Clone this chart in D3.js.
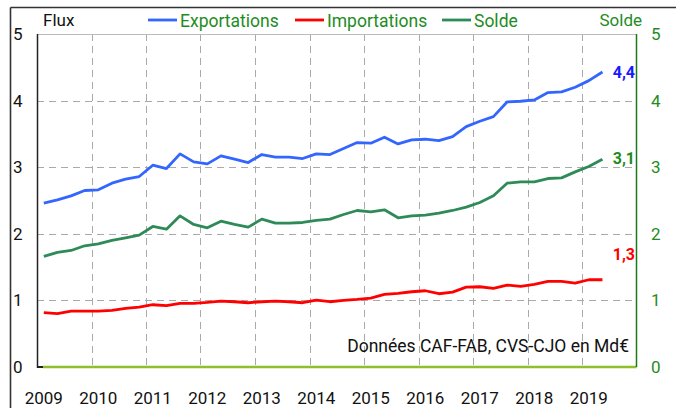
<!DOCTYPE html>
<html><head><meta charset="utf-8">
<script src="https://cdn.jsdelivr.net/npm/d3@7"></script>
<style>
html,body{margin:0;padding:0;background:#fff;}
svg{display:block;font-family:Roboto,"Noto Sans",sans-serif;}
</style></head>
<body>
<svg id="c" width="676" height="408"></svg>
<script>
const startYear = 2009;
const years = [2009,2010,2011,2012,2013,2014,2015,2016,2017,2018,2019];
const yTicks = [0,1,2,3,4,5];
const exportations = [2.46,2.51,2.57,2.65,2.66,2.76,2.82,2.86,3.03,2.98,3.20,3.08,3.05,3.17,3.12,3.07,3.19,3.15,3.15,3.13,3.20,3.19,3.28,3.37,3.36,3.45,3.35,3.41,3.42,3.40,3.46,3.61,3.69,3.76,3.98,3.99,4.01,4.12,4.13,4.20,4.30,4.43];
const importations = [0.815,0.80,0.84,0.84,0.84,0.85,0.88,0.90,0.935,0.92,0.955,0.955,0.97,0.99,0.98,0.965,0.98,0.99,0.98,0.965,1.005,0.98,1.0,1.015,1.035,1.09,1.105,1.13,1.145,1.10,1.125,1.20,1.205,1.18,1.23,1.21,1.24,1.285,1.285,1.26,1.31,1.31];
const solde = [1.66,1.72,1.75,1.82,1.85,1.90,1.94,1.98,2.11,2.07,2.27,2.14,2.09,2.19,2.14,2.10,2.22,2.16,2.16,2.17,2.20,2.22,2.29,2.35,2.33,2.36,2.24,2.27,2.28,2.31,2.35,2.40,2.47,2.57,2.76,2.78,2.78,2.83,2.84,2.93,3.01,3.12];
const seriesNames = ["Exportations","Importations","Solde"];
const endLabels = ["4,4","1,3","3,1"];
const sourceNote = "Données CAF-FAB, CVS-CJO en Md€";

const svg = d3.select("#c");
const L = 37, R = 636.5, T = 34, B = 367;
const x = d3.scaleLinear().domain([2009, 2020]).range([L, R]);
const y = d3.scaleLinear().domain([0, 5]).range([B, T]);
const tq = i => startYear + (i + 0.5) / 4;

// outer frame
svg.append("line").attr("x1",10.5).attr("x2",676).attr("y1",7.5).attr("y2",7.5).attr("stroke","#333").attr("stroke-width",1.6);
svg.append("line").attr("x1",10.5).attr("x2",10.5).attr("y1",7.5).attr("y2",408).attr("stroke","#333").attr("stroke-width",1.6);

// grid
const g = svg.append("g");
g.selectAll("line.vg").data(years.slice(1)).join("line")
  .attr("x1",d=>Math.round(x(d))+0.5).attr("x2",d=>Math.round(x(d))+0.5).attr("y1",T).attr("y2",B)
  .attr("stroke","#aaa").attr("stroke-dasharray","7,5");
g.selectAll("line.hg").data(yTicks.filter(v=>v>0&&v<5)).join("line")
  .attr("x1",L).attr("x2",R).attr("y1",d=>Math.round(y(d))+0.5).attr("y2",d=>Math.round(y(d))+0.5)
  .attr("stroke","#aaa").attr("stroke-dasharray","7,5");
svg.append("line").attr("x1",L).attr("x2",R).attr("y1",T+0.5).attr("y2",T+0.5).attr("stroke","#bbb");

// axes lines
svg.append("line").attr("x1",L+0.5).attr("x2",L+0.5).attr("y1",T).attr("y2",B+1).attr("stroke","#222").attr("stroke-width",1.5);
svg.append("line").attr("x1",L).attr("x2",L+6).attr("y1",B).attr("y2",B).attr("stroke","#222").attr("stroke-width",2);
svg.append("line").attr("x1",L+6).attr("x2",R).attr("y1",B).attr("y2",B).attr("stroke","#8fbf2a").attr("stroke-width",2.5);
svg.append("line").attr("x1",R).attr("x2",R).attr("y1",T).attr("y2",B).attr("stroke","#1a7a1a").attr("stroke-width",1.5);

// tick labels
svg.selectAll("text.yl").data(yTicks).join("text").attr("x",13).attr("y",d=>y(d)+6)
  .attr("font-size",17).attr("fill","#111").text(d=>d);
svg.selectAll("text.yr").data(yTicks).join("text").attr("x",651).attr("y",d=>y(d)+6)
  .attr("font-size",17).attr("fill","#1e8c1e").text(d=>d);
svg.selectAll("text.xl").data(years).join("text").attr("x",d=>x(d+0.125)).attr("y",404)
  .attr("text-anchor","middle").attr("font-size",17).attr("fill","#111").text(d=>d);

// titles
svg.append("text").attr("x",43).attr("y",26).attr("font-size",17).attr("fill","#111").text("Flux");
svg.append("text").attr("x",642).attr("y",26).attr("text-anchor","end").attr("font-size",17).attr("fill","#1e8c1e").text("Solde");

// lines
const colors = ["#3366ff","#ff0000","#2e8b57"];
const data = [exportations, importations, solde];
const line = d3.line().x((d,i)=>x(tq(i))).y(d=>y(d));
data.forEach((s,k)=>{
  svg.append("path").attr("d",line(s)).attr("fill","none").attr("stroke",colors[k]).attr("stroke-width",2.8).attr("stroke-linejoin","round");
});

// legend
const legX = [148, 295, 442];
seriesNames.forEach((n,k)=>{
  svg.append("line").attr("x1",legX[k]).attr("x2",legX[k]+29).attr("y1",20).attr("y2",20).attr("stroke",colors[k]).attr("stroke-width",2.8);
  svg.append("text").attr("x",legX[k]+32).attr("y",27).attr("font-size",17.5).attr("fill","#1e8c1e").text(n);
});

// end labels
const labColors = ["#1a1aff","#ff0000","#1e8c1e"];
const labOff = [6, -20, 5];
data.forEach((s,k)=>{
  svg.append("text").attr("x",635).attr("y",y(s[s.length-1])+labOff[k]).attr("text-anchor","end")
    .attr("font-size",16).attr("font-weight","bold").attr("fill",labColors[k]).text(endLabels[k]);
});

svg.append("text").attr("x",629).attr("y",352).attr("text-anchor","end").attr("font-size",17.5).attr("fill","#111").text(sourceNote);
</script>
</body></html>
